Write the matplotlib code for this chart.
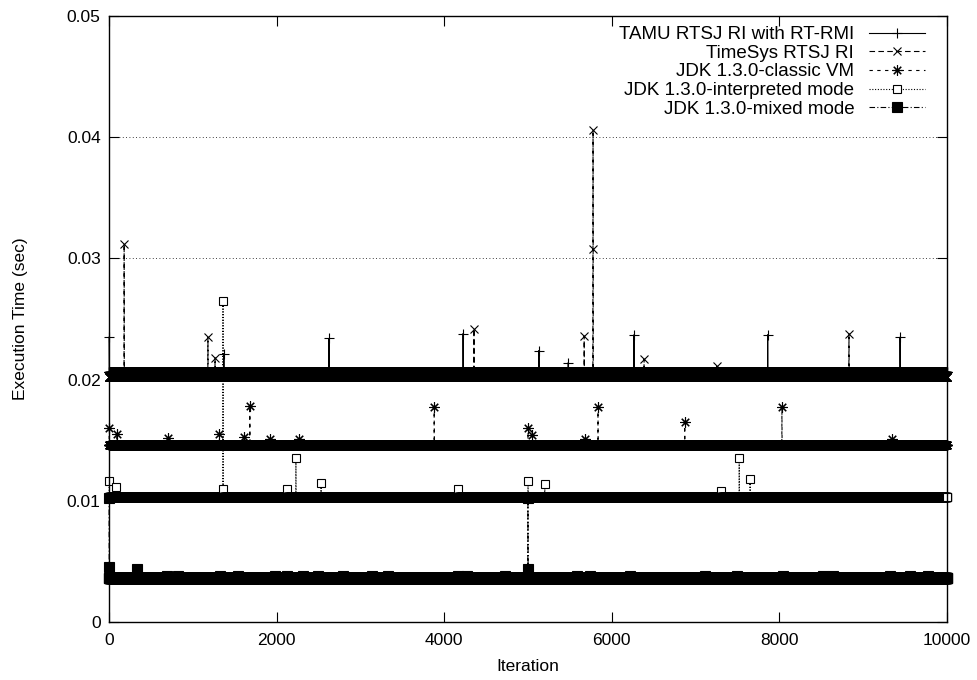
import numpy as np
import matplotlib
matplotlib.use('Agg')
import matplotlib.pyplot as plt

plt.rcParams['font.family'] = ['Liberation Sans', 'DejaVu Sans']

n_iter = 10000
iterations = np.arange(n_iter)

# baseline level of each series (sec)
tamu_base = 0.0206
timesys_base = 0.0202
classic_base = 0.0146
interp_base = 0.0103
mixed_base = 0.0036

# spikes: (iteration, execution time)
tamu_spikes = [(0, 0.0235), (1370, 0.0221), (2625, 0.0234), (4225, 0.0238),
               (5130, 0.0224), (5480, 0.0214), (6265, 0.0237), (7860, 0.0237),
               (9440, 0.0235)]
timesys_spikes = [(180, 0.0312), (1180, 0.0235), (1265, 0.0218), (4355, 0.0242),
                  (5670, 0.0236), (5775, 0.0308), (5776, 0.0406), (6385, 0.0217),
                  (7250, 0.0211), (8830, 0.0238)]
classic_spikes = [(0, 0.0160), (95, 0.0155), (700, 0.0152), (1310, 0.0155),
                  (1610, 0.0153), (1680, 0.0178), (1920, 0.0151), (2270, 0.0151),
                  (3880, 0.0177), (5000, 0.0160), (5045, 0.0154), (5680, 0.0151),
                  (5835, 0.0177), (6870, 0.0165), (8030, 0.0177), (9340, 0.0151)]
interp_spikes = [(0, 0.0116), (80, 0.0111), (1360, 0.0265), (1361, 0.0110),
                 (2120, 0.0110), (2230, 0.0135), (2530, 0.0115), (4165, 0.0110),
                 (5000, 0.0116), (5200, 0.0114), (7300, 0.0108), (7520, 0.0135),
                 (7650, 0.0118)]
mixed_spikes = [(0, 0.0102), (1, 0.0045), (335, 0.0044), (4999, 0.0102),
                (5000, 0.0044)]
mixed_bumps = [690, 825, 1325, 1540, 1980, 2120, 2315, 2495, 2790, 3140, 3330,
               4165, 4270, 4725, 5585, 5740, 6215, 7110, 7495, 8045, 8520, 8640,
               9320, 9560, 9775]
mixed_bump_value = 0.0038


def build(base, spikes):
    y = np.full(n_iter, base)
    for it, val in spikes:
        y[it] = val
    return y


tamu = build(tamu_base, tamu_spikes)
timesys = build(timesys_base, timesys_spikes)
classic = build(classic_base, classic_spikes)
interp = build(interp_base, interp_spikes)
mixed = build(mixed_base, mixed_spikes + [(b, mixed_bump_value) for b in mixed_bumps])

fig = plt.figure(figsize=(9.78, 6.8), dpi=100)
ax = fig.add_axes([0.1115, 0.0853, 0.8568, 0.8912])

lw = 0.8
ms = 7.5
common = dict(color='black', lw=lw, mew=lw, clip_on=False)
ax.plot(iterations, tamu, ls='-', marker='+', ms=ms,
        label='TAMU RTSJ RI with RT-RMI', **common)
ax.plot(iterations, timesys, ls=(0, (5, 3)), marker='x', ms=ms * 0.85,
        label='TimeSys RTSJ RI', **common)
ax.plot(iterations, classic, ls=(0, (3, 4)), marker=(8, 2, 0), ms=ms,
        label='JDK 1.3.0-classic VM', **common)
ax.plot(iterations, interp, ls=(0, (1, 1.5)), marker='s', ms=6, mfc='white',
        label='JDK 1.3.0-interpreted mode', **common)
ax.plot(iterations, mixed, ls=(0, (5, 2, 1, 2)), marker='s', ms=7, mfc='black',
        label='JDK 1.3.0-mixed mode', **common)

ax.set_xlim(0, 10000)
ax.set_ylim(0, 0.05)
ax.set_xticks([0, 2000, 4000, 6000, 8000, 10000])
ax.set_yticks([0, 0.01, 0.02, 0.03, 0.04, 0.05])
ax.set_yticklabels(['0', '0.01', '0.02', '0.03', '0.04', '0.05'])
ax.tick_params(direction='in', top=True, right=True, length=7, width=0.8,
               labelsize=12.5)
ax.tick_params(axis='y', pad=6)
ax.tick_params(axis='x', pad=8)
ax.yaxis.grid(True, linestyle=(0, (1, 3)), color='black', lw=0.6)
ax.set_axisbelow(True)
for s in ax.spines.values():
    s.set_linewidth(1.0)

ax.set_xlabel('Iteration', fontsize=12.5, labelpad=8)
ax.set_ylabel('Execution Time (sec)', fontsize=12.5, labelpad=28)

leg = ax.legend(loc='upper right', bbox_to_anchor=(0.99, 1.005), frameon=False,
                markerfirst=False, fontsize=13.5, handlelength=3.0,
                labelspacing=0.08, handletextpad=0.8, borderaxespad=0.3)

fig.savefig('out.png', dpi=100)
